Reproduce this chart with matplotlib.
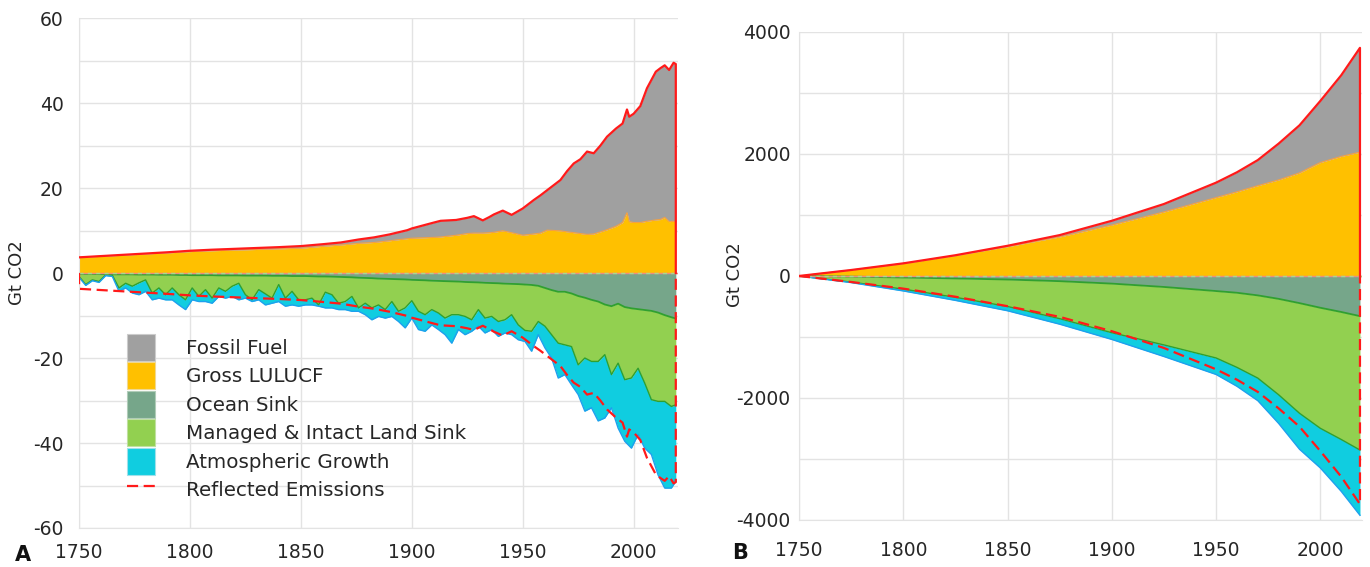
import matplotlib
matplotlib.use("Agg")
import matplotlib.pyplot as plt
from matplotlib.patches import Patch
from matplotlib.lines import Line2D
import numpy as np

plt.rcParams['font.family'] = ['DejaVu Sans']
plt.rcParams['axes.unicode_minus'] = False

# ---- annual emissions (Gt CO2), panel A, positive side
pos_years = [1750, 1760, 1770, 1780, 1790, 1800, 1810, 1820, 1830, 1840,
             1850, 1860, 1868, 1876, 1883, 1890, 1898, 1900, 1905, 1910,
             1913, 1920, 1925, 1928, 1932, 1935, 1937, 1941, 1945, 1950,
             1955, 1958, 1961, 1967, 1970, 1973, 1976, 1979, 1982, 1985,
             1988, 1992, 1995, 1997, 1998, 2000, 2003, 2006, 2010, 2012,
             2014, 2016, 2018, 2019]
lulucf = [3.7, 3.95, 4.2, 4.5, 4.75, 5.05, 5.25, 5.4, 5.55, 5.7,
          5.85, 6.3, 6.6, 7.0, 7.2, 7.6, 8.1, 8.2, 8.3, 8.4,
          8.5, 8.9, 9.3, 9.4, 9.4, 9.5, 9.6, 9.95, 9.5, 8.9,
          9.2, 9.4, 10.1, 9.95, 9.7, 9.5, 9.3, 9.1, 9.2, 9.7,
          10.2, 11.0, 11.9, 14.2, 12.1, 11.9, 11.9, 12.2, 12.5, 12.6,
          13.1, 12.1, 12.2, 12.1]
fossil = [0.0, 0.05, 0.1, 0.1, 0.15, 0.2, 0.25, 0.3, 0.35, 0.4,
          0.5, 0.5, 0.6, 0.9, 1.2, 1.5, 2.0, 2.3, 2.9, 3.5,
          3.8, 3.6, 3.7, 4.0, 3.0, 3.7, 4.2, 4.75, 4.2, 6.3,
          8.0, 8.9, 9.4, 11.95, 14.3, 16.3, 17.5, 19.5, 19.0, 20.3,
          21.9, 23.0, 23.3, 24.3, 24.7, 25.6, 27.4, 31.3, 34.9, 35.6,
          35.8, 35.7, 37.3, 37.1]

# ---- annual sinks (Gt CO2), panel A, negative side
neg_years = list(range(1750, 2018, 3)) + [2019]
ocean = [0.2, 0.2, 0.2, 0.25, 0.25, 0.3, 0.3, 0.3, 0.3, 0.35,
         0.35, 0.35, 0.4, 0.4, 0.4, 0.45, 0.45, 0.5, 0.5, 0.5,
         0.5, 0.55, 0.55, 0.55, 0.55, 0.6, 0.6, 0.6, 0.6, 0.65,
         0.65, 0.65, 0.7, 0.7, 0.7, 0.75, 0.8, 0.8, 0.85, 0.9,
         0.95, 1.0, 1.1, 1.15, 1.2, 1.3, 1.35, 1.4, 1.45, 1.5,
         1.6, 1.65, 1.7, 1.8, 1.85, 1.9, 1.95, 2.0, 2.1, 2.15,
         2.2, 2.3, 2.35, 2.4, 2.5, 2.55, 2.6, 2.7, 2.8, 3.0,
         3.5, 4.0, 4.4, 4.4, 4.8, 5.4, 5.8, 6.3, 6.7, 7.4,
         7.8, 7.2, 8.0, 8.3, 8.5, 8.7, 8.9, 9.3, 9.9, 10.4,
         10.7]
land = [0.6, 2.5, 1.4, 1.75, 0.15, 0.2, 3.2, 2.1, 2.8, 1.95,
        1.25, 4.35, 3.1, 4.7, 3.1, 4.65, 5.85, 3.0, 5.0, 3.4,
        5.4, 2.95, 3.75, 2.55, 1.85, 4.5, 5.7, 3.3, 4.3, 5.25,
        2.05, 5.25, 3.6, 5.6, 5.6, 5.15, 6.7, 3.7, 4.25, 6.2,
        5.75, 4.5, 7.1, 5.95, 7.0, 6.2, 7.25, 5.3, 7.55, 6.7,
        4.9, 7.35, 8.1, 6.8, 7.55, 8.7, 7.85, 7.8, 8.1, 8.85,
        6.4, 8.3, 7.85, 9.0, 8.5, 7.25, 9.6, 10.8, 10.9, 8.4,
        9.0, 10.5, 12.1, 12.5, 12.5, 16.2, 14.2, 14.5, 14.1, 11.8,
        16.1, 14.0, 17.1, 16.4, 13.9, 17.2, 20.9, 20.9, 20.3, 21.0,
        20.3]
atmos = [0.2, 0.2, 0.2, 0.2, 0.2, 0.3, 0.8, 1.1, 1.6, 2.8,
         2.7, 1.6, 2.4, 1.2, 2.8, 2.4, 2.3, 2.8, 1.2, 2.8,
         1.2, 2.0, 1.6, 2.4, 3.9, 0.8, 0.4, 2.4, 2.6, 1.2,
         4.0, 1.9, 3.2, 1.5, 1.2, 1.6, 0.3, 3.7, 3.1, 1.5,
         1.9, 3.5, 0.8, 2.7, 2.8, 2.7, 2.0, 3.5, 2.4, 4.7,
         4.1, 4.3, 3.9, 3.6, 3.9, 3.9, 6.7, 3.5, 4.3, 2.7,
         3.9, 3.5, 3.1, 3.5, 3.1, 4.7, 3.5, 2.6, 4.7, 3.1,
         5.1, 5.5, 8.2, 7.0, 9.0, 7.0, 12.5, 10.9, 14.0, 14.9,
         7.8, 15.3, 14.5, 16.5, 15.6, 15.3, 12.9, 17.3, 20.4, 19.2,
         18.0]

# ---- cumulative since 1750 (Gt CO2), panel B
cum_years = [1750, 1775, 1800, 1825, 1850, 1875, 1900, 1925, 1950, 1960,
             1970, 1980, 1990, 2000, 2010, 2019]
cum_lulucf = [0, 98, 205, 335, 480, 640, 835, 1050, 1285, 1380,
              1480, 1575, 1690, 1860, 1960, 2030]
cum_fossil = [0, 0, 2, 5, 15, 30, 70, 130, 245, 320,
              420, 595, 780, 1010, 1330, 1710]
cum_ocean = [0, 10, 25, 40, 58, 85, 125, 180, 247, 275,
             318, 375, 445, 521, 590, 658]
cum_land = [0, 90, 190, 310, 442, 615, 805, 950, 1097, 1223,
            1356, 1572, 1805, 1976, 2090, 2195]
cum_atmos = [0, 8, 30, 50, 70, 90, 110, 190, 270, 310,
             370, 470, 590, 650, 850, 1070]

C_FOSSIL = "#a0a0a0"
C_LULUCF = "#ffc000"
C_OCEAN = "#76a68a"
C_LAND = "#92d050"
C_ATMOS = "#10cde0"
C_RED = "#ff1a1a"
C_GREEN = "#30a030"
C_BLUE = "#1ea0ee"
C_TEXT = "#262626"
C_GRID = "#e3e3e3"


def draw_panel(ax, px, fos, luc, nx, oce, lnd, atm):
    px = np.asarray(px, float)
    nx = np.asarray(nx, float)
    luc = np.asarray(luc, float)
    top = luc + np.asarray(fos, float)
    b1 = -np.asarray(oce, float)
    b2 = b1 - np.asarray(lnd, float)
    b3 = b2 - np.asarray(atm, float)

    ax.fill_between(px, 0, luc, color=C_LULUCF, lw=0, zorder=2)
    ax.fill_between(px, luc, top, color=C_FOSSIL, lw=0, zorder=2)
    ax.fill_between(nx, 0, b1, color=C_OCEAN, lw=0, zorder=2)
    ax.fill_between(nx, b1, b2, color=C_LAND, lw=0, zorder=2)
    ax.fill_between(nx, b2, b3, color=C_ATMOS, lw=0, zorder=2)

    ax.plot(px, luc, color="#f5a040", lw=0.8, zorder=3)
    ax.plot(nx, b1, color=C_GREEN, lw=1.3, zorder=3)
    ax.plot(nx, b2, color=C_GREEN, lw=1.0, zorder=3)
    ax.plot(nx, b3, color=C_BLUE, lw=1.0, zorder=3)
    ax.axhline(0, color="#f08a80", lw=1.0, zorder=3)
    ax.axhline(0, color="#a8d890", lw=1.0, dashes=(3, 3), zorder=3)

    # total emissions and its reflection, closed to zero at the ends
    ax.plot(np.r_[px, px[-1]], np.r_[top, 0], color=C_RED, lw=1.6, zorder=4)
    ax.plot(np.r_[px[0], px, px[-1]], np.r_[0, -top, 0], color=C_RED,
            lw=1.6, dashes=(5, 2.5), zorder=4)

    ax.set_xlim(1750, 2020)
    ax.set_xticks([1750, 1800, 1850, 1900, 1950, 2000])
    ax.grid(True, which="both", color=C_GRID, lw=1.0, zorder=0)
    ax.set_axisbelow(True)
    for s in ax.spines.values():
        s.set_visible(False)
    ax.spines["left"].set_visible(True)
    ax.spines["left"].set_color(C_GRID)
    ax.spines["bottom"].set_visible(True)
    ax.spines["bottom"].set_color(C_GRID)
    ax.tick_params(which="both", length=0, labelsize=13.5, colors=C_TEXT)


fig = plt.figure(figsize=(13.7, 5.67), dpi=100)

ax1 = fig.add_axes([0.0577, 0.0688, 0.4372, 0.8992])
draw_panel(ax1, pos_years, fossil, lulucf, neg_years, ocean, land, atmos)
ax1.set_ylim(-60, 60)
ax1.set_yticks(range(-60, 61, 20))
ax1.set_yticks(range(-50, 60, 20), minor=True)
ax1.tick_params(axis="y", pad=11)
ax1.tick_params(axis="x", pad=11)
ax1.set_ylabel("Gt CO2", fontsize=13, color=C_TEXT)
ax1.yaxis.set_label_coords(26 / 1370, 0.5, transform=fig.transFigure)
ax1.yaxis.label.set_y(1 - 273 / 567)

ax2 = fig.add_axes([0.5832, 0.0829, 0.4110, 0.8607])
draw_panel(ax2, cum_years, cum_fossil, cum_lulucf, cum_years,
           cum_ocean, cum_land, cum_atmos)
ax2.set_ylim(-4000, 4000)
ax2.set_yticks(range(-4000, 4001, 2000))
ax2.set_yticks(range(-3000, 4000, 2000), minor=True)
ax2.tick_params(axis="y", pad=6)
ax2.tick_params(axis="x", pad=15)
ax2.set_ylabel("Gt CO2", fontsize=13, color=C_TEXT)
ax2.yaxis.set_label_coords(744 / 1370, 1 - 275 / 567, transform=fig.transFigure)

handles = [Patch(facecolor=C_FOSSIL, edgecolor="#cccccc", lw=0.8),
           Patch(facecolor=C_LULUCF, edgecolor="#f0d890", lw=0.8),
           Patch(facecolor=C_OCEAN, edgecolor="#b0ccb8", lw=0.8),
           Patch(facecolor=C_LAND, edgecolor="#c0e0a0", lw=0.8),
           Patch(facecolor=C_ATMOS, edgecolor="#a0e0ea", lw=0.8),
           Line2D([], [], color=C_RED, lw=1.6, dashes=(5, 2.5))]
labels = ["Fossil Fuel", "Gross LULUCF", "Ocean Sink",
          "Managed & Intact Land Sink", "Atmospheric Growth",
          "Reflected Emissions"]
ax1.legend(handles, labels, loc="upper left",
           bbox_to_anchor=(127 / 1370, 1 - 334 / 567),
           bbox_transform=fig.transFigure, frameon=False, fontsize=14.3,
           borderpad=0, borderaxespad=0, handlelength=1.4,
           handleheight=1.69, labelspacing=0.09, handletextpad=1.55,
           labelcolor=C_TEXT)

fig.text(15 / 1370, 2 / 567, "A", fontsize=15, fontweight="bold",
         color="#111111", ha="left", va="bottom")
fig.text(732 / 1370, 4 / 567, "B", fontsize=15, fontweight="bold",
         color="#111111", ha="left", va="bottom")

fig.savefig("out.png", dpi=100)
